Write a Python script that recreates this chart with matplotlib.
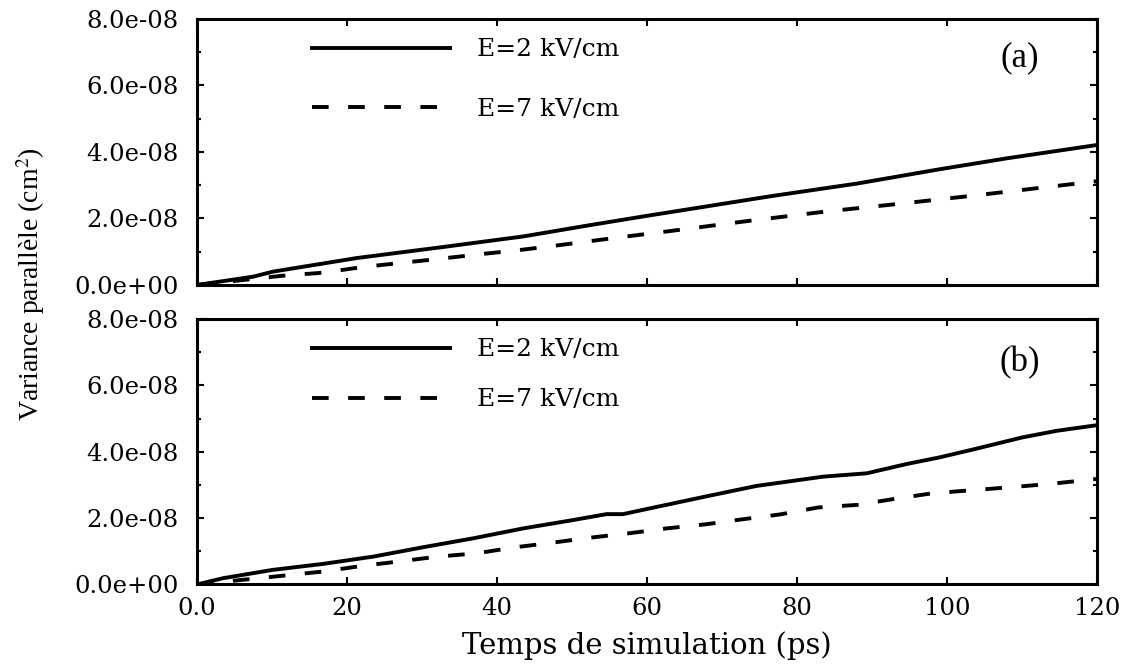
import matplotlib.pyplot as plt
from matplotlib.ticker import MultipleLocator, FormatStrFormatter

plt.rcParams['font.family'] = ['DejaVu Serif']
plt.rcParams['mathtext.fontset'] = 'stix'
plt.rcParams['lines.scale_dashes'] = False

# (a) variance vs time
ta_e2 = [0, 7.5, 10.1, 21.3, 32.4, 43.5, 52.4, 60, 76.8, 88, 99, 108, 120]
va_e2 = [0, 0.25, 0.40, 0.81, 1.13, 1.46, 1.80, 2.08, 2.68, 3.05, 3.48, 3.81, 4.21]
ta_e7 = [0, 11.5, 16.8, 22.1, 27, 32.1, 37.5, 42.6, 47.7, 52.8, 58, 63, 73.3,
         83.5, 94, 104, 114.6, 120]
va_e7 = [0, 0.28, 0.37, 0.54, 0.66, 0.78, 0.92, 1.04, 1.18, 1.33, 1.48, 1.62, 1.92,
         2.20, 2.45, 2.70, 2.98, 3.12]

# (b)
tb_e2 = [0, 3.5, 10.1, 16.8, 23.5, 30.1, 36.8, 43.5, 50.1, 54.6, 56.8, 60.1, 68,
         74.6, 83.5, 89.3, 94.6, 99, 103.5, 110, 114.6, 120]
vb_e2 = [0, 0.19, 0.44, 0.62, 0.84, 1.12, 1.39, 1.69, 1.94, 2.12, 2.12, 2.28, 2.66,
         2.97, 3.25, 3.35, 3.63, 3.83, 4.07, 4.43, 4.63, 4.80]
tb_e7 = [0, 11.7, 16.8, 22, 26.8, 32.1, 37.3, 42.4, 47.4, 52.4, 57.5, 62.6, 67.7,
         72.6, 77.7, 82.8, 88.1, 93, 98.1, 103.3, 108.4, 113.7, 120]
vb_e7 = [0, 0.27, 0.39, 0.56, 0.69, 0.84, 0.94, 1.12, 1.26, 1.41, 1.54, 1.69, 1.81,
         1.96, 2.11, 2.32, 2.40, 2.58, 2.75, 2.84, 2.93, 3.03, 3.18]

labels = ['E=2 kV/cm', 'E=7 kV/cm']
xticks = [0, 20, 40, 60, 80, 100, 120]
xtick_labels = ['0.0', '20', '40', '60', '80', '100', '120']

fig = plt.figure(figsize=(11.3, 6.66), dpi=100)
ax1 = fig.add_axes([0.1743, 0.5721, 0.7965, 0.3994])
ax2 = fig.add_axes([0.1743, 0.1224, 0.7965, 0.3986])

panels = [
    (ax1, ta_e2, va_e2, ta_e7, va_e7, '(a)', 0.853, 1.45),
    (ax2, tb_e2, vb_e2, tb_e7, vb_e7, '(b)', 0.834, 1.08),
]

for ax, t2, v2, t7, v7, tag, tag_y, lspace in panels:
    ax.plot(t2, [v * 1e-8 for v in v2], color='black', lw=2.8, label=labels[0])
    ax.plot(t7, [v * 1e-8 for v in v7], color='black', lw=2.8,
            dashes=(12, 14), label=labels[1])
    ax.set_xlim(0, 120)
    ax.set_ylim(0, 8e-8)
    ax.set_xticks(xticks)
    ax.yaxis.set_major_locator(MultipleLocator(2e-8))
    ax.yaxis.set_minor_locator(MultipleLocator(1e-8))
    ax.yaxis.set_major_formatter(FormatStrFormatter('%.1e'))
    ax.tick_params(which='both', direction='in', top=True, right=True,
                   labelsize=17.5, width=1.5)
    ax.tick_params(which='major', length=5)
    ax.tick_params(which='minor', length=3)
    ax.tick_params(axis='y', pad=13)
    ax.tick_params(axis='x', pad=9)
    for sp in ax.spines.values():
        sp.set_linewidth(2.2)
    ax.text(0.914, tag_y, tag, transform=ax.transAxes, ha='center', va='center',
            fontsize=25, family='Liberation Serif')
    ax.legend(loc='upper left', bbox_to_anchor=(0.117, 0.965), frameon=False,
              fontsize=18, handlelength=5.5, handletextpad=1.1,
              labelspacing=lspace, borderaxespad=0)

ax1.tick_params(axis='x', labelbottom=False)
ax2.set_xticklabels(xtick_labels)
ax2.set_xlabel('Temps de simulation (ps)', fontsize=21, labelpad=8)

fig.text(0.027, 0.573, 'Variance parallèle (cm$^{2}$)', rotation=90,
         ha='center', va='center', fontsize=20, family='Liberation Serif')

fig.savefig('out.png', dpi=100)
